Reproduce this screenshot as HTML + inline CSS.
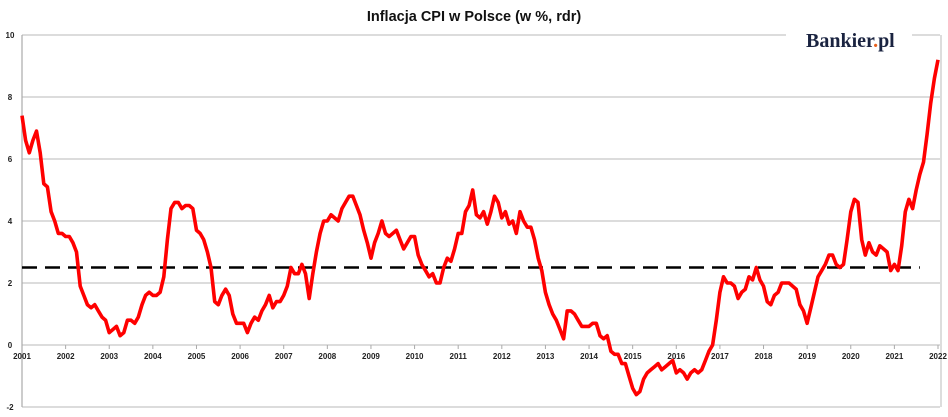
<!DOCTYPE html>
<html><head><meta charset="utf-8"><style>
html,body{margin:0;padding:0;background:#fff;width:948px;height:417px;overflow:hidden}
svg{display:block;font-family:"Liberation Sans",sans-serif}
</style></head><body>
<svg id="chart" width="948" height="417">
<text x="474" y="21" text-anchor="middle" font-size="14.5" font-weight="bold" fill="#111">Inflacja CPI w Polsce (w %, rdr)</text>
<g id="grid"></g>
<g id="yt"></g>
<g id="xt"></g>
<line id="target" stroke="#000" stroke-width="2.6" stroke-dasharray="15,8"/>
<path id="series" fill="none" stroke="#ff0000" stroke-width="3.6" stroke-linejoin="round"/>
<rect x="786" y="28" width="126" height="26" fill="#fff"/>
<text x="806" y="47" font-family="'Liberation Serif',serif" font-size="20" font-weight="bold" fill="#1a2340">Bankier<tspan fill="#e8601c">.</tspan>pl</text>
</svg>
<script>
const yTicks=[-2,0,2,4,6,8,10];
const years=[2001,2002,2003,2004,2005,2006,2007,2008,2009,2010,2011,2012,2013,2014,2015,2016,2017,2018,2019,2020,2021,2022];
const targetValue=2.5;
const cpi=[7.4,6.6,6.2,6.6,6.9,6.2,5.2,5.1,4.3,4.0,3.6,3.6,
3.5,3.5,3.3,3.0,1.9,1.6,1.3,1.2,1.3,1.1,0.9,0.8,
0.4,0.5,0.6,0.3,0.4,0.8,0.8,0.7,0.9,1.3,1.6,1.7,
1.6,1.6,1.7,2.2,3.4,4.4,4.6,4.6,4.4,4.5,4.5,4.4,
3.7,3.6,3.4,3.0,2.5,1.4,1.3,1.6,1.8,1.6,1.0,0.7,
0.7,0.7,0.4,0.7,0.9,0.8,1.1,1.3,1.6,1.2,1.4,1.4,
1.6,1.9,2.5,2.3,2.3,2.6,2.3,1.5,2.3,3.0,3.6,4.0,
4.0,4.2,4.1,4.0,4.4,4.6,4.8,4.8,4.5,4.2,3.7,3.3,
2.8,3.3,3.6,4.0,3.6,3.5,3.6,3.7,3.4,3.1,3.3,3.5,
3.5,2.9,2.6,2.4,2.2,2.3,2.0,2.0,2.5,2.8,2.7,3.1,
3.6,3.6,4.3,4.5,5.0,4.2,4.1,4.3,3.9,4.3,4.8,4.6,
4.1,4.3,3.9,4.0,3.6,4.3,4.0,3.8,3.8,3.4,2.8,2.4,
1.7,1.3,1.0,0.8,0.5,0.2,1.1,1.1,1.0,0.8,0.6,0.6,
0.6,0.7,0.7,0.3,0.2,0.3,-0.2,-0.3,-0.3,-0.6,-0.6,-1.0,
-1.4,-1.6,-1.5,-1.1,-0.9,-0.8,-0.7,-0.6,-0.8,-0.7,-0.6,-0.5,
-0.9,-0.8,-0.9,-1.1,-0.9,-0.8,-0.9,-0.8,-0.5,-0.2,0.0,0.8,
1.7,2.2,2.0,2.0,1.9,1.5,1.7,1.8,2.2,2.1,2.5,2.1,
1.9,1.4,1.3,1.6,1.7,2.0,2.0,2.0,1.9,1.8,1.3,1.1,
0.7,1.2,1.7,2.2,2.4,2.6,2.9,2.9,2.6,2.5,2.6,3.4,
4.3,4.7,4.6,3.4,2.9,3.3,3.0,2.9,3.2,3.1,3.0,2.4,
2.6,2.4,3.2,4.3,4.7,4.4,5.0,5.5,5.9,6.8,7.8,8.6,
9.2];
const X0=22,X1=938,Y0=345,PU=31;
function yS(v){return Y0-v*PU;}
function xS(m){return X0+(X1-X0)*m/((years[years.length-1]-years[0])*12);}
const NS='http://www.w3.org/2000/svg';
const grid=document.getElementById('grid'),yt=document.getElementById('yt'),xt=document.getElementById('xt');
for(const t of yTicks){
 const l=document.createElementNS(NS,'line');
 l.setAttribute('x1',X0);l.setAttribute('x2',940);l.setAttribute('y1',yS(t));l.setAttribute('y2',yS(t));
 l.setAttribute('stroke','#c8c8c8');l.setAttribute('stroke-width','1.2');
 
 
 grid.appendChild(l);
 const tx=document.createElementNS(NS,'text');
 tx.setAttribute('x',10);tx.setAttribute('y',yS(t)+3);tx.setAttribute('text-anchor','middle');
 tx.setAttribute('font-size','8');tx.setAttribute('font-weight','bold');tx.setAttribute('fill','#222');
 tx.textContent=t;
 
 
 yt.appendChild(tx);
}
const ax=document.createElementNS(NS,'line');
ax.setAttribute('x1',X0);ax.setAttribute('x2',X0);ax.setAttribute('y1',yS(10));ax.setAttribute('y2',yS(-2));
ax.setAttribute('stroke','#aaa');ax.setAttribute('stroke-width','1.2');


grid.appendChild(ax);
const rb=document.createElementNS(NS,'line');
rb.setAttribute('x1',941);rb.setAttribute('x2',941);rb.setAttribute('y1',yS(10));rb.setAttribute('y2',yS(-2));
rb.setAttribute('stroke','#bbb');rb.setAttribute('stroke-width','1');


grid.appendChild(rb);
years.forEach((y,i)=>{
 const x=xS(i*12);
 const tk=document.createElementNS(NS,'line');
 tk.setAttribute('x1',x);tk.setAttribute('x2',x);tk.setAttribute('y1',Y0);tk.setAttribute('y2',Y0+4);
 tk.setAttribute('stroke','#aaa');
 
 
 xt.appendChild(tk);
 const tx=document.createElementNS(NS,'text');
 tx.setAttribute('x',x);tx.setAttribute('y',Y0+14);tx.setAttribute('text-anchor','middle');
 tx.setAttribute('font-size','8');tx.setAttribute('font-weight','bold');tx.setAttribute('fill','#222');
 tx.textContent=y;
 
 
 xt.appendChild(tx);
});
const tg=document.getElementById('target');
tg.setAttribute('x1',X0);tg.setAttribute('x2',xS(247));tg.setAttribute('y1',yS(targetValue));tg.setAttribute('y2',yS(targetValue));
document.getElementById('series').setAttribute('d',cpi.map((v,i)=>(i?'L':'M')+xS(i).toFixed(1)+','+yS(v).toFixed(1)).join(''));
</script>
</body></html>
